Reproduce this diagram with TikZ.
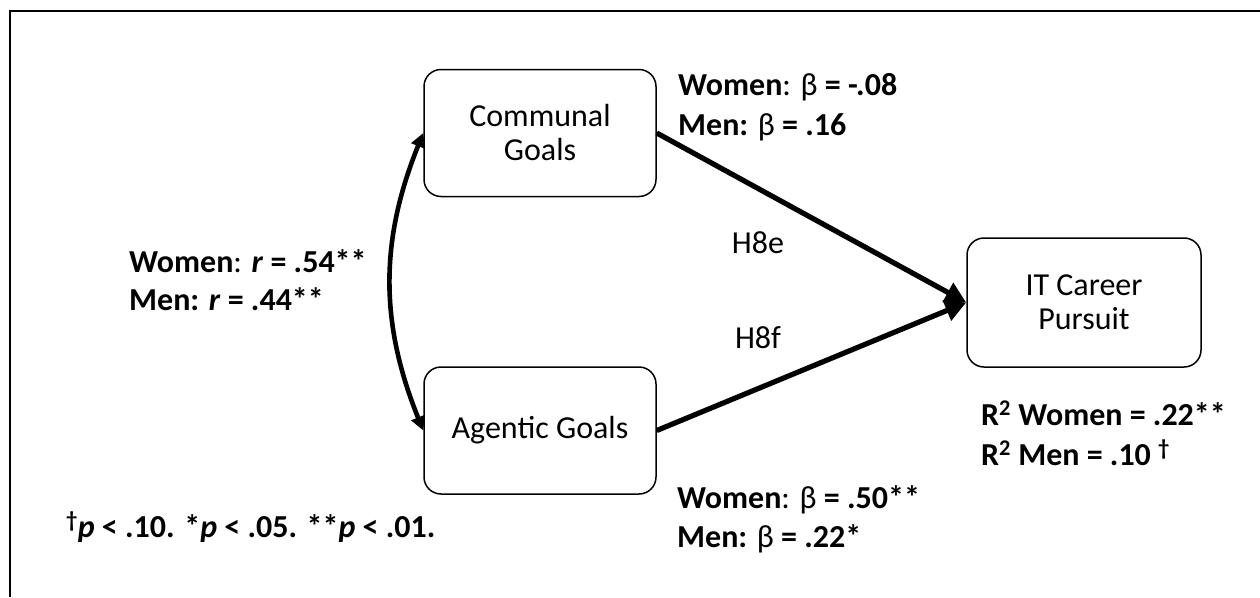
\documentclass[tikz,border=0pt]{standalone}
\usepackage{fontspec}
\setmainfont{Carlito}
\usetikzlibrary{arrows.meta}
\begin{document}
\begin{tikzpicture}[x=1pt, y=-1pt,
  goalbox/.style={draw, line width=1.5pt, rounded corners=17pt,
    minimum width=232pt, minimum height=127pt, inner sep=0pt,
    align=center, font=\fontsize{32}{34}\selectfont},
  effect/.style={line width=5.2pt, -{Triangle[length=21pt, width=21pt]}},
  covary/.style={line width=4.6pt,
    {Triangle[length=14pt, width=14pt]}-{Triangle[length=14pt, width=14pt]}},
  stat/.style={anchor=base west, inner sep=0pt, font=\fontsize{32}{38}\selectfont},
  hyp/.style={anchor=base, inner sep=0pt, font=\fontsize{32}{34}\selectfont}]
\useasboundingbox (0,0) rectangle (1260,597);

% open frame: top and left edges
\draw[line width=2.4pt] (10,597) -- (10,11) -- (1260,11);

% constructs
\node[goalbox] (cg) at (540,133) {Communal\\Goals};
\node[goalbox] (ag) at (540,430.5) {Agentic Goals};
\node[goalbox, minimum width=234pt, minimum height=129pt] (it) at (1084,302.5) {IT Career\\Pursuit};

% paths
\draw[effect] (cg.east) -- (it.west);
\draw[effect] (ag.east) -- (it.west);
\draw[covary] (cg.west) to[bend right=22] (ag.west);

% hypothesis labels
\node[hyp] (h8e) at (758,253) {H8e};
\node[hyp] (h8f) at (758,348) {H8f};

% coefficients
\node[stat] (cw) at (678,95) {\textbf{Women}: β \textbf{= -.08}};
\node[stat] (cm) at (678,135) {\textbf{Men:} β \textbf{= .16}};
\node[stat] (rw) at (129,272) {\textbf{Women}: \textbf{\textit{r} = .54**}};
\node[stat] (rm) at (129,310) {\textbf{Men: \textit{r} = .44**}};
\node[stat] (aw) at (677,508) {\textbf{Women}: β \textbf{= .50**}};
\node[stat] (am) at (677,547) {\textbf{Men:} β \textbf{= .22*}};
\node[stat] (r2w) at (981,425) {\textbf{R\textsuperscript{2} Women = .22**}};
\node[stat] (r2m) at (981,465) {\textbf{R\textsuperscript{2} Men = .10 \textsuperscript{†}}};

% significance note
\node[stat] (note) at (66,537) {\textbf{\textsuperscript{†}\textit{p} < .10. *\textit{p} < .05. **\textit{p} < .01.}};
\end{tikzpicture}
\end{document}
